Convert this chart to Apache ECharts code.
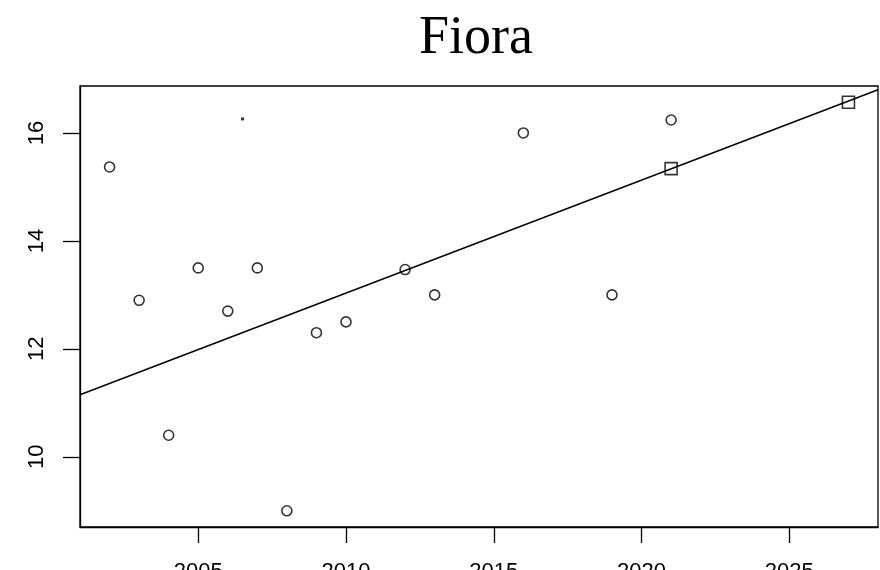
<!DOCTYPE html>
<html>
<head>
<meta charset="utf-8">
<script src="https://cdn.jsdelivr.net/npm/echarts@6/dist/echarts.min.js"></script>
<style>
html,body{margin:0;padding:0;background:#fff;}
#chart{width:880px;height:570px;}
</style>
</head>
<body>
<div id="chart"></div>
<script>
const titleText = 'Fiora';
const years = [2002, 2003, 2004, 2005, 2006, 2007, 2008, 2009, 2010, 2012, 2013, 2016, 2019, 2021];
const values = [15.37, 12.9, 10.4, 13.5, 12.7, 13.5, 9.0, 12.3, 12.5, 13.47, 13.0, 16.0, 13.0, 16.24];
const squareYears = [2021, 2027];
const squareValues = [15.34, 16.57];
const dotYears = [2006.5];
const dotValues = [16.26];
const trendYears = [2001, 2028];
const trendValues = [11.15, 16.8];
const xTicks = [2005, 2010, 2015, 2020, 2025];
const yTicks = [10, 12, 14, 16];

const pairs = (xs, ys) => xs.map((x, i) => [x, ys[i]]);

const chart = echarts.init(document.getElementById('chart'), null, {renderer: 'canvas'});
chart.setOption({
  animation: false,
  backgroundColor: '#ffffff',
  title: {
    text: titleText,
    left: 414,
    top: 7,
    textStyle: {fontFamily: 'Liberation Serif', fontSize: 54, fontWeight: 'normal', color: '#000'}
  },
  grid: {
    left: 80, right: 2, top: 86, bottom: 43,
    outerBoundsMode: 'none', containLabel: false,
    show: true, borderColor: '#000', borderWidth: 1.3, backgroundColor: 'transparent'
  },
  xAxis: {
    type: 'value', min: 2001, max: 2028,
    splitLine: {show: false},
    axisLine: {show: true, onZero: false, lineStyle: {color: '#000', width: 1.3}},
    axisTick: {show: true, length: 16, customValues: xTicks, lineStyle: {color: '#000', width: 1.3}},
    axisLabel: {customValues: xTicks, margin: 34, fontFamily: 'Liberation Sans', fontSize: 22, color: '#000',
      formatter: v => String(v)}
  },
  yAxis: {
    type: 'value', min: 8.70, max: 16.87,
    splitLine: {show: false},
    axisLine: {show: true, onZero: false, lineStyle: {color: '#000', width: 1.3}},
    axisTick: {show: true, length: 17, customValues: yTicks, lineStyle: {color: '#000', width: 1.3}},
    axisLabel: {customValues: yTicks, rotate: 90, margin: 32, fontFamily: 'Liberation Sans', fontSize: 22, color: '#000',
      formatter: v => String(v)}
  },
  series: [
    {
      type: 'line', data: pairs(trendYears, trendValues), symbol: 'none', clip: true,
      lineStyle: {color: '#000', width: 1.4}, silent: true
    },
    {
      type: 'scatter', data: pairs(years, values), symbol: 'circle', symbolSize: 10,
      itemStyle: {color: 'rgba(0,0,0,0)', borderColor: '#000', borderWidth: 1.6}
    },
    {
      type: 'scatter', data: pairs(squareYears, squareValues), symbol: 'rect', symbolSize: 12,
      itemStyle: {color: 'rgba(0,0,0,0)', borderColor: '#000', borderWidth: 1.6}
    },
    {
      type: 'scatter', data: pairs(dotYears, dotValues), symbol: 'rect', symbolSize: 3,
      itemStyle: {color: '#000'}
    }
  ]
});
</script>
</body>
</html>
